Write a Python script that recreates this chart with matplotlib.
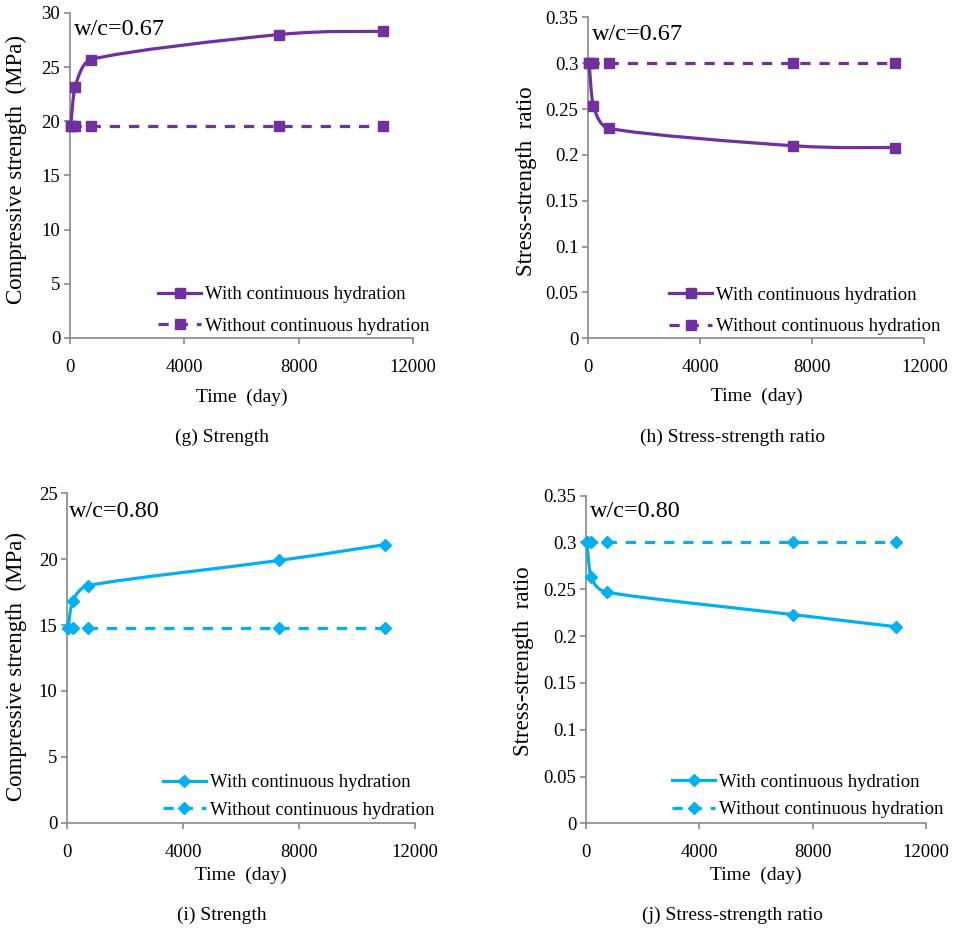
import matplotlib
matplotlib.use('Agg')
import matplotlib.pyplot as plt
from matplotlib.path import Path
from matplotlib.patches import PathPatch
from matplotlib.lines import Line2D
import numpy as np

plt.rcParams['font.family'] = ['Liberation Serif', 'DejaVu Serif']

# time points (day)
days = [28, 180, 730, 7300, 10950]

# w/c = 0.67
str67_with = [19.6, 23.2, 25.7, 28.0, 28.3]
str67_without = [19.6, 19.6, 19.6, 19.6, 19.6]
ratio67_with = [0.300, 0.253, 0.229, 0.210, 0.208]
ratio67_without = [0.3, 0.3, 0.3, 0.3, 0.3]

# w/c = 0.80
str80_with = [14.8, 16.8, 18.0, 19.9, 21.1]
str80_without = [14.8, 14.8, 14.8, 14.8, 14.8]
ratio80_with = [0.300, 0.263, 0.247, 0.223, 0.210]
ratio80_without = [0.3, 0.3, 0.3, 0.3, 0.3]

xticks = [0, 4000, 8000, 12000]
str67_ticks = [0, 5, 10, 15, 20, 25, 30]
str80_ticks = [0, 5, 10, 15, 20, 25]
ratio_ticks = [0, 0.05, 0.1, 0.15, 0.2, 0.25, 0.3, 0.35]
ratio_labels = ['0', '0.05', '0.1', '0.15', '0.2', '0.25', '0.3', '0.35']

leg_labels = ['With continuous hydration', 'Without continuous hydration']

purple = '#7030A0'
blue = '#00B0F0'
gray = '#898989'
dash = (0, (3.2, 2.8))
lw = 2.3


def smooth_path(x, y):
  # excel-like smoothed line: catmull-rom handles (P[i+1]-P[i-1])/6,
  # shortened so a handle never reaches past half of its segment
  p = np.column_stack([np.asarray(x, float), np.asarray(y, float)])
  n = len(p)
  tan = np.zeros_like(p)
  tan[0] = (p[1]-p[0])/6
  tan[-1] = (p[-1]-p[-2])/6
  for i in range(1, n-1):
    tan[i] = (p[i+1]-p[i-1])/6
  verts = [tuple(p[0])]
  codes = [Path.MOVETO]
  for i in range(n-1):
    half = (p[i+1, 0]-p[i, 0])/2
    a = tan[i]*min(1.0, half/tan[i, 0])
    b = tan[i+1]*min(1.0, half/tan[i+1, 0])
    verts += [tuple(p[i]+a), tuple(p[i+1]-b), tuple(p[i+1])]
    codes += [Path.CURVE4]*3
  return Path(verts, codes)


def panel(ax, y_with, y_without, color, marker, ms, ytk, ylab, ylabel, note,
          note_xy, leg_xy, lsp, xlab_y, ylab_xy, ymax):
  ax.add_patch(PathPatch(smooth_path(days, y_with), fc='none', ec=color, lw=lw,
                         capstyle='round', zorder=3))
  ax.plot(days, y_with, ls='none', marker=marker, ms=ms, color=color, zorder=4, clip_on=False)
  ax.plot(days, y_without, ls=dash, lw=lw, marker=marker, ms=ms, color=color,
          zorder=4, clip_on=False)

  ax.set_xlim(0, 12000)
  ax.set_ylim(0, ymax)
  ax.set_xticks(xticks)
  ax.set_xticklabels([str(t) for t in xticks])
  ax.set_yticks(ytk)
  ax.set_yticklabels(ylab)
  for s in ['top', 'right']:
    ax.spines[s].set_visible(False)
  for s in ['left', 'bottom']:
    ax.spines[s].set_color(gray)
    ax.spines[s].set_linewidth(1.2)
  ax.tick_params(axis='both', direction='out', color=gray, width=1.2, length=4,
                 labelsize=13.5, labelcolor='black')
  ax.tick_params(axis='x', pad=11)
  ax.tick_params(axis='y', pad=3)

  ax.set_xlabel('Time  (day)', fontsize=14, va='center')
  ax.xaxis.set_label_coords(0.5, xlab_y)
  ax.set_ylabel(ylabel, fontsize=16.5, va='center')
  ax.yaxis.set_label_coords(*ylab_xy)

  ax.text(note_xy[0], note_xy[1], note, transform=ax.transAxes, fontsize=17.5,
          ha='left', va='center')

  handles = [Line2D([], [], color=color, lw=lw, marker=marker, ms=ms),
             Line2D([], [], color=color, lw=lw, ls=dash, marker=marker, ms=ms)]
  ax.legend(handles, leg_labels, loc='center left', bbox_to_anchor=leg_xy,
            frameon=False, fontsize=13.5, borderpad=0, borderaxespad=0,
            handlelength=2.3, handletextpad=0.2, labelspacing=lsp)


fig = plt.figure(figsize=(9.56, 9.30), dpi=100)

ax1 = fig.add_axes([0.0732, 0.6366, 0.3588, 0.3495])
ax2 = fig.add_axes([0.6154, 0.6362, 0.3515, 0.3452])
ax3 = fig.add_axes([0.0704, 0.1154, 0.3637, 0.3542])
ax4 = fig.add_axes([0.6130, 0.1147, 0.3556, 0.3523])

panel(ax1, str67_with, str67_without, purple, 's', 7.5, str67_ticks,
      [str(t) for t in str67_ticks], 'Compressive strength  (MPa)', 'w/c=0.67',
      (0.012, 0.948), (0.2566, 0.0846), 0.75, -0.1815, (-0.155, 0.517), 30)
panel(ax2, ratio67_with, ratio67_without, purple, 's', 7.5, ratio_ticks,
      ratio_labels, 'Stress-strength  ratio', 'w/c=0.67',
      (0.010, 0.945), (0.24, 0.085), 0.75, -0.182, (-0.183, 0.488), 0.35)
panel(ax3, str80_with, str80_without, blue, 'D', 6, str80_ticks,
      [str(t) for t in str80_ticks], 'Compressive strength  (MPa)', 'w/c=0.80',
      (0.006, 0.944), (0.275, 0.0795), 0.55, -0.159, (-0.1455, 0.474), 25)
panel(ax4, ratio80_with, ratio80_without, blue, 'D', 6, ratio_ticks,
      ratio_labels, 'Stress-strength  ratio', 'w/c=0.80',
      (0.012, 0.951), (0.253, 0.083), 0.55, -0.158, (-0.184, 0.496), 0.35)

fig.text(222/956, 1-437/930, '(g) Strength', fontsize=14, ha='center', va='center')
fig.text(733/956, 1-437/930, '(h) Stress-strength ratio', fontsize=14, ha='center', va='center')
fig.text(222/956, 1-915/930, '(i) Strength', fontsize=14, ha='center', va='center')
fig.text(732/956, 1-915/930, '(j) Stress-strength ratio', fontsize=14, ha='center', va='center')

plt.savefig('out.png', dpi=100)
plt.close()
